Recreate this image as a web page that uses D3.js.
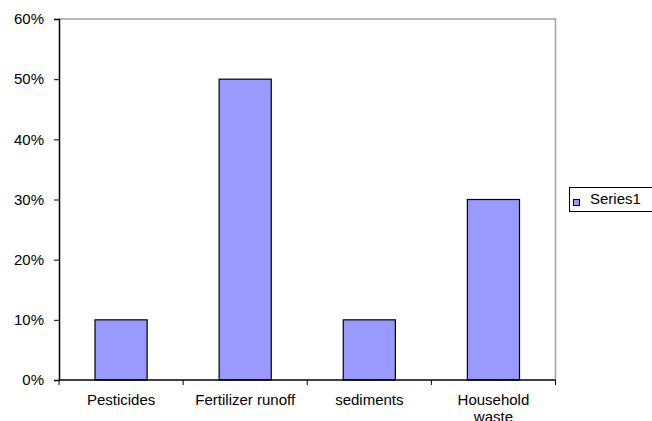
<!DOCTYPE html>
<html>
<head>
<meta charset="utf-8">
<script src="https://cdn.jsdelivr.net/npm/d3@7"></script>
<style>
  body { margin: 0; background: #fff; overflow: hidden; }
  text { font-family: "Liberation Sans", Arial, sans-serif; fill: #000; }
</style>
</head>
<body>
<svg id="chart" width="652" height="421"></svg>
<script>
let categories = ['Pesticides', 'Fertilizer runoff', 'sediments', 'Household waste']
let series1 = [0.10, 0.50, 0.10, 0.30]
let yTicks = [0, 0.1, 0.2, 0.3, 0.4, 0.5, 0.6]
let seriesName = 'Series1'

let plot_l = 59, plot_r = 555.5, plot_t = 19, plot_b = 380

let svg = d3.select('#chart')

let xScale = d3.scaleBand()
    .domain(categories)
    .range([plot_l, plot_r])
    .paddingInner(0.58)
    .paddingOuter(0.29)

let yScale = d3.scaleLinear()
    .domain([0, 0.6])
    .range([plot_b, plot_t])

// plot frame (top and right in grey)
svg.append('path')
    .attr('d', `M${plot_l},${plot_t}H${plot_r}V${plot_b}`)
    .attr('fill', 'none')
    .attr('stroke', '#a0a0a0')
    .attr('stroke-width', 1.5)

// bars
svg.append('g')
    .selectAll('rect')
    .data(series1)
    .join('rect')
    .attr('x', (d, i) => xScale(categories[i]))
    .attr('y', d => yScale(d))
    .attr('width', xScale.bandwidth())
    .attr('height', d => yScale(0) - yScale(d))
    .attr('fill', '#9999ff')
    .attr('stroke', '#000')
    .attr('stroke-width', 1.2)

// y axis
let yAxisGen = d3.axisLeft(yScale)
    .tickValues(yTicks)
    .tickFormat(d3.format('.0%'))
    .tickSize(5)
    .tickPadding(10)

let yAxis = svg.append('g')
    .attr('transform', `translate(${plot_l},0)`)
    .call(yAxisGen)
yAxis.select('.domain').attr('stroke', '#000').attr('stroke-width', 1.5)
yAxis.selectAll('line').attr('stroke', '#000')
yAxis.selectAll('text').style('font-size', '15px')

// x axis: ticks at category boundaries
let bounds = categories.map(c => xScale(c) - xScale.step() * xScale.paddingInner() / 2)
bounds.push(plot_r)

let xAxis = svg.append('g')
xAxis.append('line')
    .attr('x1', plot_l).attr('x2', plot_r)
    .attr('y1', plot_b).attr('y2', plot_b)
    .attr('stroke', '#000')
    .attr('stroke-width', 1.5)
xAxis.selectAll('.xtick')
    .data(bounds)
    .join('line')
    .attr('class', 'xtick')
    .attr('x1', d => d).attr('x2', d => d)
    .attr('y1', plot_b).attr('y2', plot_b + 5)
    .attr('stroke', '#000')

let labels = xAxis.selectAll('.xlabel')
    .data(categories)
    .join('text')
    .attr('class', 'xlabel')
    .attr('text-anchor', 'middle')
    .attr('x', d => xScale(d) + xScale.bandwidth() / 2)
    .attr('y', 405)
    .style('font-size', '15px')

labels.each(function (d) {
    let el = d3.select(this)
    let words = d === 'Household waste' ? ['Household', 'waste'] : [d]
    words.forEach((w, i) => {
        el.append('tspan')
            .attr('x', xScale(d) + xScale.bandwidth() / 2)
            .attr('dy', i === 0 ? 0 : 17)
            .text(w)
    })
})

// legend
let legend = svg.append('g')
legend.append('rect')
    .attr('x', 569.5).attr('y', 187.5)
    .attr('width', 90).attr('height', 24)
    .attr('fill', '#fff')
    .attr('stroke', '#000')
legend.append('rect')
    .attr('x', 573.5).attr('y', 199.5)
    .attr('width', 6).attr('height', 6)
    .attr('fill', '#9999ff')
    .attr('stroke', '#000')
legend.append('text')
    .attr('x', 590).attr('y', 200)
    .attr('dominant-baseline', 'middle')
    .style('font-size', '15px')
    .text(seriesName)
</script>
</body>
</html>
